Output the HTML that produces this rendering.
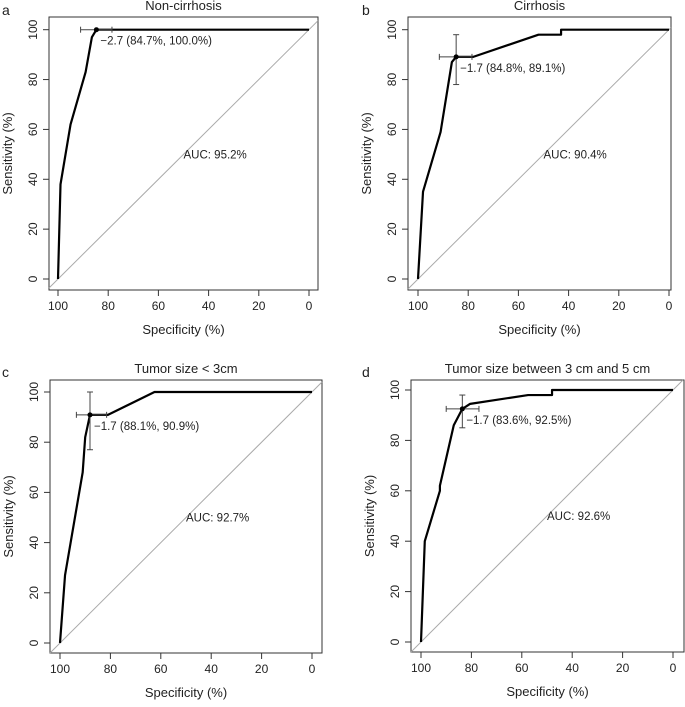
<!DOCTYPE html>
<html><head><meta charset="utf-8"><style>
body{margin:0;background:#fff;}
svg{display:block;font-family:"Liberation Sans",Arial,sans-serif;}
</style></head><body>
<svg id="fig" width="685" height="707" viewBox="0 0 685 707"></svg>
<script>
const panelLetters=["a","b","c","d"];
const panelTitles=["Non-cirrhosis","Cirrhosis","Tumor size < 3cm","Tumor size between 3 cm and 5 cm"];
const xTicks=[100,80,60,40,20,0];
const yTicks=[0,20,40,60,80,100];
const specA=[100,99,95,89,86.5,84.7,0];
const sensA=[0,38,62,83,97,100,100];
const specB=[100,98,91,86.5,84.8,78,52,43,43,0];
const sensB=[0,35,59,87,89.1,89.1,98,98,100,100];
const specC=[100,98,91,90,88.1,81,62.5,0];
const sensC=[0,27,68,82,90.9,90.9,100,100];
const specD=[100,98.5,92.5,92.5,87,83.6,80.5,57.5,48,48,0];
const sensD=[0,40,60,62,86,92.5,94.5,98,98,100,100];
const bestSpec=[84.7,84.8,88.1,83.6];
const bestSens=[100,89.1,90.9,92.5];
const ciSpecLo=[91,91.5,93.5,90];
const ciSpecHi=[78.5,78.5,81.5,77];
const ciSensLo=[100,78,77,85];
const ciSensHi=[100,98,100,98];
const bestLabels=["\u22122.7 (84.7%, 100.0%)","\u22121.7 (84.8%, 89.1%)","\u22121.7 (88.1%, 90.9%)","\u22121.7 (83.6%, 92.5%)"];
const aucLabels=["AUC: 95.2%","AUC: 90.4%","AUC: 92.7%","AUC: 92.6%"];
const specs=[specA,specB,specC,specD];
const senss=[sensA,sensB,sensC,sensD];
// layout: box & axis pixel anchors
const layout=[
 {bx0:49,bx1:318,by0:17,by1:290,x100:58,x0:309,y100:29.7,y0:279,ox:0,oy:0},
 {bx0:408,bx1:671,by0:17,by1:290,x100:418,x0:669,y100:29.7,y0:279,ox:340,oy:0},
 {bx0:50,bx1:322,by0:380,by1:653,x100:60,x0:312,y100:392,y0:643,ox:0,oy:355},
 {bx0:411,bx1:684,by0:380,by1:652,x100:421,x0:673,y100:390,y0:642,ox:340,oy:355}
];
const NS="http://www.w3.org/2000/svg";
const svg=document.getElementById("fig");
function mk(tag,attrs,parent){const e=document.createElementNS(NS,tag);for(const k in attrs)e.setAttribute(k,attrs[k]);parent.appendChild(e);return e;}
layout.forEach((L,i)=>{
 const g=mk("g",{},svg);
 
 
 const X=v=>L.x100+(100-v)/100*(L.x0-L.x100);
 const Y=v=>L.y0-v/100*(L.y0-L.y100);
 const box=mk("rect",{x:L.bx0,y:L.by0,width:L.bx1-L.bx0,height:L.by1-L.by0,fill:"none",stroke:"#333","stroke-width":1},g);
 
 
 const diag=mk("line",{x1:X(100)-( (L.bx0-X(100)) ? 0:0),y1:Y(0),x2:X(0),y2:Y(100),stroke:"#aaa","stroke-width":1},g);
 // extend diagonal to box edges
 const ext=Math.min(X(100)-L.bx0,L.by1-Y(0));
 diag.setAttribute("x1",X(100)-ext);diag.setAttribute("y1",Y(0)+ext);
 const ext2=Math.min(L.bx1-X(0),Y(100)-L.by0);
 diag.setAttribute("x2",X(0)+ext2);diag.setAttribute("y2",Y(100)-ext2);
 
 
 xTicks.forEach(t=>{
  mk("line",{x1:X(t),x2:X(t),y1:L.by1,y2:L.by1+6,stroke:"#333"},g);
  const tx=mk("text",{x:X(t),y:L.by1+20,"font-size":12,"text-anchor":"middle",fill:"#222"},g);
  tx.textContent=t;
  
  
 });
 yTicks.forEach(t=>{
  mk("line",{x1:L.bx0,x2:L.bx0-6,y1:Y(t),y2:Y(t),stroke:"#333"},g);
  const tx=mk("text",{x:0,y:0,"font-size":12,"text-anchor":"middle",fill:"#222",transform:`translate(${L.bx0-12},${Y(t)}) rotate(-90)`},g);
  tx.textContent=t;
  
  
 });
 const xt=mk("text",{x:(L.bx0+L.bx1)/2,y:L.by1+44,"font-size":13,"text-anchor":"middle",fill:"#222"},g);
 xt.textContent="Specificity (%)";
 
 
 const yt=mk("text",{x:0,y:0,"font-size":13,"text-anchor":"middle",fill:"#222",transform:`translate(${L.bx0-37},${(L.by0+L.by1)/2}) rotate(-90)`},g);
 yt.textContent="Sensitivity (%)";
 
 
 const ti=mk("text",{x:(L.bx0+L.bx1)/2,y:L.by0-7,"font-size":13,"text-anchor":"middle",fill:"#222"},g);
 ti.textContent=panelTitles[i];
 
 
 const lt=mk("text",{x:L.ox+(i%2?22:2),y:L.oy+(i<2?15:22),"font-size":14,fill:"#222"},g);
 lt.textContent=panelLetters[i];
 
 
 const pts=specs[i].map((s,k)=>X(s)+","+Y(senss[i][k])).join(" ");
 const pl=mk("polyline",{points:pts,fill:"none",stroke:"#000","stroke-width":2.2,"stroke-linejoin":"round"},g);
 
 
 const bx=X(bestSpec[i]),by=Y(bestSens[i]);
 const ch=mk("line",{x1:X(ciSpecLo[i]),x2:X(ciSpecHi[i]),y1:by,y2:by,stroke:"#444","stroke-width":1},g);
 
 
 [ciSpecLo[i],ciSpecHi[i]].forEach(v=>mk("line",{x1:X(v),x2:X(v),y1:by-3,y2:by+3,stroke:"#444"},g));
 if(ciSensLo[i]!==ciSensHi[i]){
  const cv=mk("line",{x1:bx,x2:bx,y1:Y(ciSensLo[i]),y2:Y(ciSensHi[i]),stroke:"#444","stroke-width":1},g);
  
  
  [ciSensLo[i],ciSensHi[i]].forEach(v=>mk("line",{x1:bx-3,x2:bx+3,y1:Y(v),y2:Y(v),stroke:"#444"},g));
 }
 const pt=mk("circle",{cx:bx,cy:by,r:2.5,fill:"#000"},g);
 
 
 const bl=mk("text",{x:bx+4,y:by+15,"font-size":11.5,fill:"#222"},g);
 bl.textContent=bestLabels[i];
 
 
 const al=mk("text",{x:X(50),y:Y(50)+4,"font-size":11.5,fill:"#222"},g);
 al.textContent=aucLabels[i];
 
 
});
</script>
</body></html>
